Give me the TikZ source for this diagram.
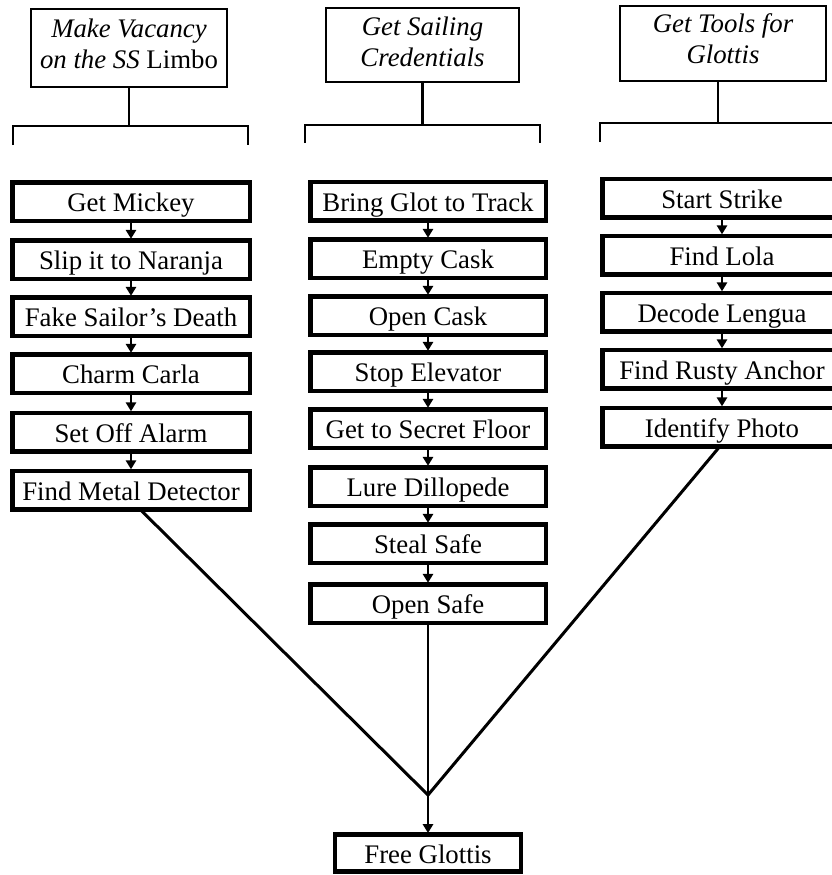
\documentclass[tikz,border=0pt]{standalone}
\usepackage{fontspec}
\setmainfont{Liberation Serif}
\usetikzlibrary{arrows.meta}
\newcommand\boxfont{\fontsize{26.8}{31}\selectfont}
\newcommand\lowpad[1]{\rule[-#1]{0pt}{#1}}
\tikzset{
  taskbox/.style={draw, line width=4.5pt, inner sep=0pt, outer sep=0pt,
    minimum height=38.5pt, font=\boxfont, text height=20pt, text depth=0pt},
  colA/.style={taskbox, minimum width=237.5pt},
  colB/.style={taskbox, minimum width=235.5pt},
  colC/.style={taskbox, minimum width=239.5pt},
  hdr/.style={draw, line width=2.2pt, inner sep=0pt, outer sep=0pt, align=center,
    font=\boxfont\itshape},
  bracket/.style={line width=2.2pt},
  flow/.style={line width=1.7pt, shorten >=1.5pt, -{Triangle[length=9pt,width=10.5pt]}},
  mergeline/.style={line width=3pt}
}
\begin{document}
\begin{tikzpicture}[x=1pt,y=-1pt]
\useasboundingbox (0,0) rectangle (832,875);
\clip (0,0) rectangle (832,875);

% headers
\node[hdr, minimum width=196pt, minimum height=78pt] (h1) at (129,48)
  {Make Vacancy\\on the SS {\upshape Limbo}\lowpad{9pt}};
\node[hdr, minimum width=193pt, minimum height=74pt] (h2) at (422.5,45)
  {Get Sailing\\Credentials\lowpad{6pt}};
\node[hdr, minimum width=206pt, minimum height=75pt] (h3) at (723,43.5)
  {Get Tools for\\Glottis\lowpad{9pt}};

% brackets
\coordinate (b1m) at (129,126);
\coordinate (b1l) at (13,145);
\coordinate (b1r) at (248,145);
\draw[bracket] (h1) -- (b1m);
\draw[bracket] (b1l) |- (b1m) -| (b1r);

\coordinate (b2m) at (422.5,125);
\coordinate (b2l) at (305,143);
\coordinate (b2r) at (540,143);
\draw[bracket] (h2) -- (b2m);
\draw[bracket] (b2l) |- (b2m) -| (b2r);

\coordinate (b3m) at (718,123);
\coordinate (b3l) at (600,142);
\coordinate (b3r) at (850,123);
\draw[bracket] (b3m |- h3.south) -- (b3m);
\draw[bracket] (b3l) |- (b3m) -- (b3r);

% column 1
\node[colA] (a1) at (131,201.5) {Get Mickey};
\node[colA] (a2) at (131,259.5) {Slip it to Naranja};
\node[colA] (a3) at (131,316.5) {Fake Sailor’s Death};
\node[colA] (a4) at (131,373.5) {Charm Carla};
\node[colA] (a5) at (131,432) {Set Off Alarm};
\node[colA] (a6) at (131,490) {Find Metal Detector};
\foreach \p/\q in {a1/a2,a2/a3,a3/a4,a4/a5,a5/a6}
  \draw[flow] (\p) -- (\q);

% column 2
\node[colB] (c1) at (428,201) {Bring Glot to Track};
\node[colB] (c2) at (428,258.5) {Empty Cask};
\node[colB] (c3) at (428,315.5) {Open Cask};
\node[colB] (c4) at (428,371.5) {Stop Elevator};
\node[colB] (c5) at (428,428.5) {Get to Secret Floor};
\node[colB] (c6) at (428,486.5) {Lure Dillopede};
\node[colB] (c7) at (428,543.5) {Steal Safe};
\node[colB] (c8) at (428,603.5) {Open Safe};
\foreach \p/\q in {c1/c2,c2/c3,c3/c4,c4/c5,c5/c6,c6/c7,c7/c8}
  \draw[flow] (\p) -- (\q);

% column 3
\node[colC] (t1) at (722,198) {Start Strike};
\node[colC] (t2) at (722,255) {Find Lola};
\node[colC] (t3) at (722,312) {Decode Lengua};
\node[colC] (t4) at (722,369) {Find Rusty Anchor};
\node[colC] (t5) at (722,427) {Identify Photo};
\foreach \p/\q in {t1/t2,t2/t3,t3/t4,t4/t5}
  \draw[flow] (\p) -- (\q);

% final
\node[taskbox, minimum width=186pt, minimum height=37pt] (fg) at (428,853) {Free Glottis};
\coordinate (cv) at (428,795);
\draw[mergeline] ([xshift=9pt]a6.south) -- (cv);
\draw[mergeline] ([xshift=-2pt]t5.south) -- (cv);
\draw[flow] (c8) -- (fg);
\end{tikzpicture}
\end{document}
